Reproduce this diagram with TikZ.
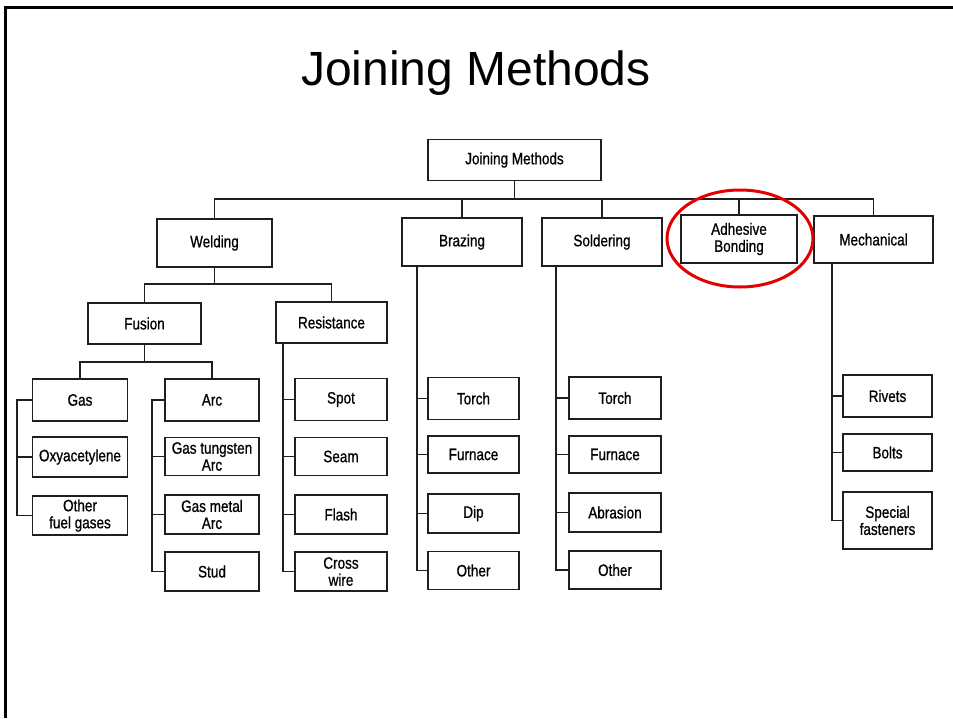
\documentclass[tikz,border=0pt]{standalone}
\usepackage{fontspec}
\setmainfont{Liberation Sans}
\newfontfamily\diag[FakeStretch=0.82,FakeBold=0.8]{Liberation Sans}
\begin{document}
\begin{tikzpicture}[x=1pt,y=-1pt,
  box/.style={draw=black!88, line width=1.5pt, inner sep=0pt, align=center,
    font=\diag\fontsize{16.5}{17}\selectfont},
  sz/.style 2 args={minimum width=#1pt, minimum height=#2pt},
  conn/.style={draw=black!88, line width=1.5pt},
  hl/.style={draw=red!90!black, line width=3pt},
  frame/.style={draw=black, line width=3pt},
  ttl/.style={font=\fontsize{48}{50}\selectfont, anchor=base, inner sep=0pt}]
\useasboundingbox (0,0) rectangle (953,718);
% slide frame
\draw[frame] (5.5,718) -- (5.5,7.5) -- (953,7.5);
% title
\node[ttl] (title) at (476,85) {Joining Methods};
% level 0/1
\node[box, sz={173}{41}] (jm) at (514.5,160) {Joining Methods};
\node[box, sz={115}{48}] (wel) at (214.5,243) {Welding};
\node[box, sz={120}{48}] (brz) at (462,242) {Brazing};
\node[box, sz={120}{48}] (sol) at (602,242) {Soldering};
\node[box, sz={116}{48}] (adh) at (739,239) {Adhesive\\Bonding};
\node[box, sz={119}{47}] (mech) at (873.5,239.5) {Mechanical};
% welding
\node[box, sz={113}{41}] (fus) at (144.5,323.5) {Fusion};
\node[box, sz={111}{41}] (res) at (331.5,322.5) {Resistance};
\node[box, sz={95}{42}] (gas) at (80,400) {Gas};
\node[box, sz={95}{40}] (oxy) at (80,457) {Oxyacetylene};
\node[box, sz={95}{39}] (ofg) at (80,515.5) {Other\\fuel gases};
\node[box, sz={94}{42}] (arc) at (212,400) {Arc};
\node[box, sz={94}{38}] (gta) at (212,456.5) {Gas tungsten\\Arc};
\node[box, sz={94}{39}] (gma) at (212,514.5) {Gas metal\\Arc};
\node[box, sz={94}{39}] (stud) at (212,571.5) {Stud};
\node[box, sz={92}{42}] (spot) at (341,399.5) {Spot};
\node[box, sz={92}{38}] (seam) at (341,456.5) {Seam};
\node[box, sz={92}{39}] (flash) at (341,514.5) {Flash};
\node[box, sz={92}{39}] (cross) at (341,571.5) {Cross\\wire};
% brazing
\node[box, sz={91}{42}] (btorch) at (473.5,398.5) {Torch};
\node[box, sz={91}{37}] (bfurn) at (473.5,454.5) {Furnace};
\node[box, sz={91}{39}] (bdip) at (473.5,513.5) {Dip};
\node[box, sz={91}{38}] (bother) at (473.5,570.5) {Other};
% soldering
\node[box, sz={92}{42}] (storch) at (615,398) {Torch};
\node[box, sz={92}{37}] (sfurn) at (615,454.5) {Furnace};
\node[box, sz={92}{39}] (sabr) at (615,512.5) {Abrasion};
\node[box, sz={92}{38}] (sother) at (615,570) {Other};
% mechanical
\node[box, sz={89}{42}] (riv) at (887.5,396) {Rivets};
\node[box, sz={89}{37}] (bolt) at (887.5,452.5) {Bolts};
\node[box, sz={89}{57}] (spec) at (887.5,520.5) {Special\\fasteners};
% helper coordinates
\coordinate (bus) at (513,199);
\coordinate (wbus) at (214.5,284);
\coordinate (fbus) at (144.5,362);
\coordinate (gx) at (17,0);
\coordinate (ax) at (152,0);
\coordinate (rx) at (283,0);
\coordinate (bx) at (417,0);
\coordinate (sx) at (556,0);
\coordinate (mx) at (832,0);
% top level connectors
\draw[conn] (jm.south) -- (jm.south |- bus);
\draw[conn] (wel.north) |- (bus) -| (mech.north);
\draw[conn] (brz.north) -- (brz.north |- bus);
\draw[conn] (sol.north) -- (sol.north |- bus);
\draw[conn] (adh.north) -- (adh.north |- bus);
% welding
\draw[conn] (wel.south) -- (wbus);
\draw[conn] (fus.north) |- (wbus) -| (res.north);
\draw[conn] (fus.south) -- (fbus);
\draw[conn] (gas.north) |- (fbus) -| (arc.north);
% gas bracket
\draw[conn] (gas.west) -- (gas.west -| gx) |- (ofg.west);
\draw[conn] (oxy.west) -- (oxy.west -| gx);
% arc bracket
\draw[conn] (arc.west) -- (arc.west -| ax) |- (stud.west);
\draw[conn] (gta.west) -- (gta.west -| ax);
\draw[conn] (gma.west) -- (gma.west -| ax);
% resistance
\draw[conn] (res.south -| rx) |- (cross.west);
\draw[conn] (spot.west) -- (spot.west -| rx);
\draw[conn] (seam.west) -- (seam.west -| rx);
\draw[conn] (flash.west) -- (flash.west -| rx);
% brazing
\draw[conn] (brz.south -| bx) |- (bother.west);
\draw[conn] (btorch.west) -- (btorch.west -| bx);
\draw[conn] (bfurn.west) -- (bfurn.west -| bx);
\draw[conn] (bdip.west) -- (bdip.west -| bx);
% soldering
\draw[conn] (sol.south -| sx) |- (sother.west);
\draw[conn] (storch.west) -- (storch.west -| sx);
\draw[conn] (sfurn.west) -- (sfurn.west -| sx);
\draw[conn] (sabr.west) -- (sabr.west -| sx);
% mechanical
\draw[conn] (mech.south -| mx) |- (spec.west);
\draw[conn] (riv.west) -- (riv.west -| mx);
\draw[conn] (bolt.west) -- (bolt.west -| mx);
% highlight
\draw[hl] (740,238.5) ellipse [x radius=73pt, y radius=48.5pt];
\end{tikzpicture}
\end{document}
